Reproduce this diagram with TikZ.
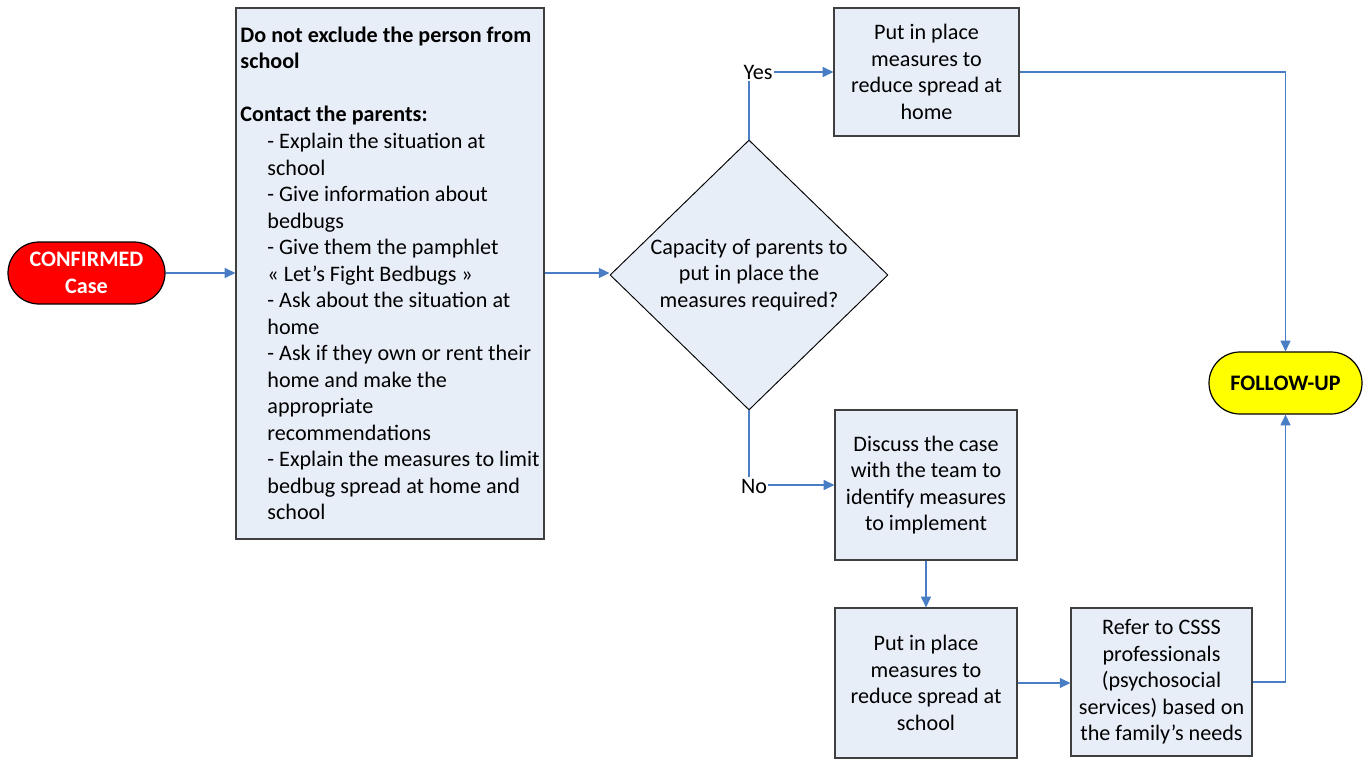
\documentclass[tikz,border=0pt]{standalone}
\usepackage{fontspec}
\setmainfont{Carlito}
\usetikzlibrary{shapes.geometric,arrows.meta}
\definecolor{boxfill}{HTML}{E8EEF8}
\definecolor{boxline}{HTML}{3F3F3F}
\definecolor{conn}{HTML}{4A7EC4}
\definecolor{termred}{HTML}{FF0000}
\definecolor{termyellow}{HTML}{FFFF00}
\tikzset{
  every node/.style={font=\fontsize{16.6}{19.9}\selectfont},
  stepbox/.style={draw=boxline, line width=0.9pt, fill=boxfill, align=center, inner sep=0pt},
  termbox/.style={draw=black, line width=0.9pt, rounded corners=23.25pt, align=center, inner sep=0pt,
     minimum height=46.5pt, font=\fontsize{16.6}{20.2}\selectfont\bfseries},
  decbox/.style={diamond, draw=black, line width=0.7pt, fill=boxfill, align=center, inner sep=0pt, aspect=1.03,
     minimum width=208.5pt, minimum height=202.5pt},
  link/.style={draw=conn, line width=0.8pt, -{Triangle[length=8pt,width=7.5pt]}},
  branch/.style={fill=white, inner sep=1pt}
}
\begin{document}
\begin{tikzpicture}[x=0.75pt,y=-0.75pt]
\useasboundingbox (0,0) rectangle (1369,759);

\node[termbox, fill=termred, text=white, minimum width=117.75pt] (conf) at (86.5,273) {CONFIRMED\\Case};

\node[stepbox, align=left, minimum width=231pt, minimum height=398.25pt] (steps) at (390,273.5) {%
\textbf{Do not exclude the person from}\\
\textbf{school}\\[19.9pt]
\textbf{Contact the parents:}\\
\hspace*{20.25pt}- Explain the situation at\\
\hspace*{20.25pt}school\\
\hspace*{20.25pt}- Give information about\\
\hspace*{20.25pt}bedbugs\\
\hspace*{20.25pt}- Give them the pamphlet\\
\hspace*{20.25pt}« Let’s Fight Bedbugs »\\
\hspace*{20.25pt}- Ask about the situation at\\
\hspace*{20.25pt}home\\
\hspace*{20.25pt}- Ask if they own or rent their\\
\hspace*{20.25pt}home and make the\\
\hspace*{20.25pt}appropriate\\
\hspace*{20.25pt}recommendations\\
\hspace*{20.25pt}- Explain the measures to limit\\
\hspace*{20.25pt}bedbug spread at home and\\
\hspace*{20.25pt}school};

\node[decbox] (dia) at (749,275) {Capacity of parents to\\put in place the\\measures required?};

\node[stepbox, minimum width=138.75pt, minimum height=96pt] (home) at (926.5,72) {Put in place\\measures to\\reduce spread at\\home};

\node[stepbox, minimum width=136.5pt, minimum height=112.5pt] (disc) at (926,485) {Discuss the case\\with the team to\\identify measures\\to implement};

\node[stepbox, minimum width=136.5pt, minimum height=112.5pt] (school) at (926,683) {Put in place\\measures to\\reduce spread at\\school};

\node[stepbox, minimum width=135.75pt, minimum height=111pt] (csss) at (1161.5,682) {Refer to CSSS\\professionals\\(psychosocial\\services) based on\\the family’s needs};

\node[termbox, fill=termyellow, text=black, minimum width=114.75pt] (fu) at (1285.5,383) {FOLLOW-UP};

\draw[link] (conf.east) -- (conf.east -| steps.west);
\draw[link] (steps.east |- conf.east) -- (steps.east |- conf.east -| dia.west);
\draw[link] (dia.north) |- (home.west);
\draw[link] (dia.south) |- (disc.west);
\draw[link] (disc.south) -- (school.north);
\draw[link] (school.east) -- (school.east -| csss.west);
\draw[link] (home.east) -| (fu.north);
\draw[link] (csss.east) -| (fu.south);

\node[branch] (yes) at (758,72) {Yes};
\node[branch] (no) at (754,486) {No};
\end{tikzpicture}
\end{document}
